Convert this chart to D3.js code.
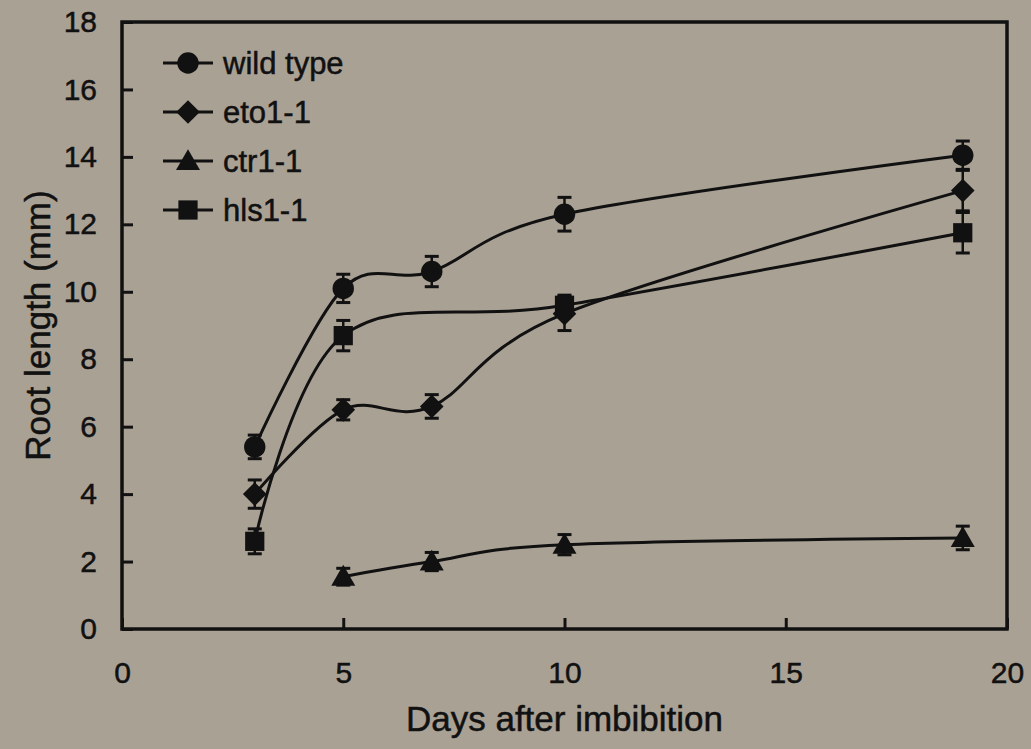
<!DOCTYPE html>
<meta charset="utf-8">
<style>
body { margin: 0; background: #aaa195; }
svg { display: block; background: #aaa195; }
text { font-family: "Liberation Sans", Arial, sans-serif; fill: #111; stroke: #111; stroke-width: 0.5px; }
.axis path { display: none; }
.axis line { stroke: #111; stroke-width: 3px; }
.axis text { font-size: 30px; fill: #111; }
</style>
<svg width="1031" height="749"></svg>
<script src="https://d3js.org/d3.v7.min.js"></script>
<script>
// data
var days = [3, 5, 7, 10, 19];

var wildType    = [5.4, 10.1, 10.6, 12.3, 14.05];
var wildTypeErr = [0.35, 0.42, 0.45, 0.5, 0.42];

var eto    = [4.0, 6.5, 6.6, 9.35, 13.0];
var etoErr = [0.42, 0.3, 0.35, 0.5, 0.6];

var ctrDays = [5, 7, 10, 19];
var ctr     = [1.55, 2.0, 2.5, 2.7];
var ctrErr  = [0.25, 0.27, 0.3, 0.35];

var hlsDays = [3, 5, 10, 19];
var hls     = [2.6, 8.7, 9.6, 11.75];
var hlsErr  = [0.37, 0.45, 0.3, 0.6];

var xTicks = [0, 5, 10, 15, 20];
var yTicks = [0, 2, 4, 6, 8, 10, 12, 14, 16, 18];

var series = [
  {name: "wild type", shape: "circle",   x: days,    y: wildType, e: wildTypeErr},
  {name: "eto1-1",    shape: "diamond",  x: days,    y: eto,      e: etoErr},
  {name: "ctr1-1",    shape: "triangle", x: ctrDays, y: ctr,      e: ctrErr},
  {name: "hls1-1",    shape: "square",   x: hlsDays, y: hls,      e: hlsErr}
];

var svg = d3.select("svg");

var x = d3.scaleLinear().domain([0, 20]).range([122, 1007]);
var y = d3.scaleLinear().domain([0, 18]).range([629, 22]);

// axes with inward ticks
svg.append("g")
    .attr("class", "axis")
    .attr("transform", "translate(0," + y(0) + ")")
    .call(d3.axisBottom(x).tickValues(xTicks).tickSize(-11).tickPadding(33).tickFormat(d3.format("d")));

svg.append("g")
    .attr("class", "axis")
    .attr("transform", "translate(" + x(0) + ",0)")
    .call(d3.axisLeft(y).tickValues(yTicks).tickSize(-11).tickPadding(25).tickFormat(d3.format("d")));

// frame
svg.append("rect")
    .attr("x", x(0)).attr("y", y(18))
    .attr("width", x(20) - x(0)).attr("height", y(0) - y(18))
    .attr("fill", "none").attr("stroke", "#111").attr("stroke-width", 3.5);

// titles
svg.append("text")
    .attr("x", (x(0) + x(20)) / 2).attr("y", 731)
    .attr("text-anchor", "middle").style("font-size", "35px")
    .text("Days after imbibition");

svg.append("text")
    .attr("transform", "translate(50," + (y(0) + y(18)) / 2 + ") rotate(-90)")
    .attr("text-anchor", "middle").style("font-size", "35px")
    .text("Root length (mm)");

var symbols = {
  circle: d3.symbolCircle,
  diamond: d3.symbolSquare,
  triangle: d3.symbolTriangle,
  square: d3.symbolSquare
};
var sizes = {circle: 360, diamond: 280, triangle: 250, square: 370};

function marker(g, shape) {
  var p = g.append("path")
      .attr("d", d3.symbol().type(symbols[shape]).size(sizes[shape])())
      .attr("fill", "#111");
  if (shape === "diamond") p.attr("transform", "rotate(45)");
  if (shape === "triangle") p.attr("transform", "translate(0,2)");
}

var line = d3.line()
    .x(function(d) { return x(d[0]); })
    .y(function(d) { return y(d[1]); })
    .curve(d3.curveCardinal.tension(0));

series.forEach(function(s) {
  var pts = s.x.map(function(v, i) { return [v, s.y[i], s.e[i]]; });
  var g = svg.append("g");

  g.append("path")
      .datum(pts)
      .attr("d", line)
      .attr("fill", "none")
      .attr("stroke", "#111")
      .attr("stroke-width", 3);

  var eb = g.selectAll(".err").data(pts).enter().append("g");
  eb.append("line")
      .attr("x1", function(d) { return x(d[0]); })
      .attr("x2", function(d) { return x(d[0]); })
      .attr("y1", function(d) { return y(d[1] - d[2]); })
      .attr("y2", function(d) { return y(d[1] + d[2]); })
      .attr("stroke", "#111").attr("stroke-width", 2.5);
  [1, -1].forEach(function(sign) {
    eb.append("line")
        .attr("x1", function(d) { return x(d[0]) - 7; })
        .attr("x2", function(d) { return x(d[0]) + 7; })
        .attr("y1", function(d) { return y(d[1] + sign * d[2]); })
        .attr("y2", function(d) { return y(d[1] + sign * d[2]); })
        .attr("stroke", "#111").attr("stroke-width", 3);
  });

  g.selectAll(".pt").data(pts).enter().append("g")
      .attr("transform", function(d) { return "translate(" + x(d[0]) + "," + y(d[1]) + ")"; })
      .each(function() { marker(d3.select(this), s.shape); });
});

// legend
var legend = svg.append("g");
series.forEach(function(s, i) {
  var ly = 63 + i * 49;
  var row = legend.append("g").attr("transform", "translate(188," + ly + ")");
  row.append("line").attr("x1", -25).attr("x2", 25)
      .attr("stroke", "#111").attr("stroke-width", 3);
  marker(row, s.shape);
  row.append("text").attr("x", 35).attr("dy", "0.35em")
      .style("font-size", "31px").text(s.name);
});
</script>
